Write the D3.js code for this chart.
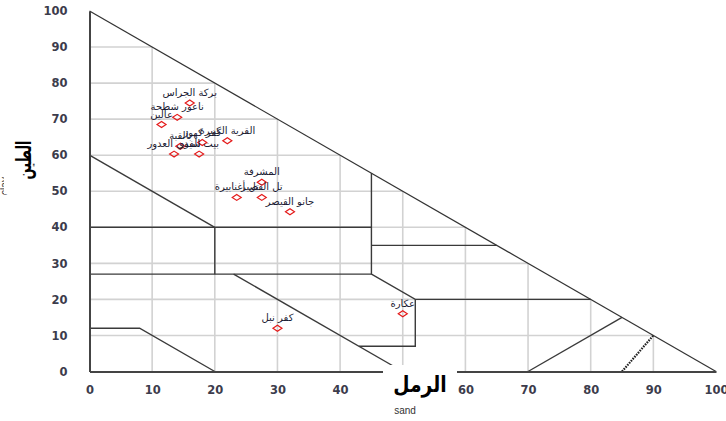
<!DOCTYPE html>
<html>
<head>
<meta charset="utf-8">
<script src="https://cdn.jsdelivr.net/npm/d3@7/dist/d3.min.js"></script>
<style>
  html, body { margin: 0; padding: 0; background: #fff; }
  svg { display: block; }
</style>
</head>
<body>
<svg id="chart" width="726" height="421"></svg>
<script>
// Sample sites: sand % and clay % from the soil analyses
const siteNames = [
  "بركة الجراس", "ناعور شطحة", "عالين", "القرية الكبيرة", "كفر كهوز",
  "بالقبة", "سيدي العدور", "بيت الفور", "المشرفة", "تل أغنابيرة",
  "تل القصير", "جانو القيصر", "عكارة", "كفر نبل"
];
const siteSand = [16, 14, 11.5, 22, 18, 14.5, 13.5, 17.5, 27.5, 23.5, 27.5, 32, 50, 30];
const siteClay = [74.5, 70.5, 68.5, 64, 63.5, 62.5, 60.3, 60.3, 52.5, 48.3, 48.3, 44.3, 16, 12];

// Axis ticks
const tickValues = [0, 10, 20, 30, 40, 50, 60, 70, 80, 90, 100];
const gridValues = [10, 20, 30, 40, 50, 60, 70, 80, 90];

// USDA texture class boundaries as [sand, clay] polylines
const textureBoundaries = [
  [[0, 60], [20, 40]],
  [[0, 40], [45, 40]],
  [[0, 27], [45, 27]],
  [[20, 40], [20, 27]],
  [[45, 55], [45, 27], [52, 20], [80, 20]],
  [[45, 35], [65, 35]],
  [[23, 27], [50, 0]],
  [[43, 7], [52, 7], [52, 20]],
  [[0, 12], [8, 12], [20, 0]],
  [[70, 0], [85, 15]]
];
const sandBoundary = [[85, 0], [90, 10]];

const svg = d3.select("#chart");
const x = d3.scaleLinear().domain([0, 100]).range([89.5, 716]);
const y = d3.scaleLinear().domain([0, 100]).range([371.5, 11]);
const line = d3.line().x(d => x(d[0])).y(d => y(d[1]));

// Grid, clipped to the triangle
const grid = svg.append("g").attr("stroke", "#d2d2d2").attr("stroke-width", 1.6);
grid.selectAll("line.v").data(gridValues).join("line")
  .attr("x1", d => x(d)).attr("x2", d => x(d))
  .attr("y1", y(0)).attr("y2", d => y(100 - d));
grid.selectAll("line.h").data(gridValues).join("line")
  .attr("y1", d => y(d)).attr("y2", d => y(d))
  .attr("x1", x(0)).attr("x2", d => x(100 - d));

// Texture class boundaries
svg.append("g").attr("fill", "none").attr("stroke", "#3a3a3a").attr("stroke-width", 1.4)
  .selectAll("path").data(textureBoundaries).join("path")
  .attr("d", line);
svg.append("path").attr("d", line(sandBoundary))
  .attr("fill", "none").attr("stroke", "#222").attr("stroke-width", 2.2)
  .attr("stroke-dasharray", "1.6,1.1");

// Hypotenuse (silt = 0)
svg.append("path").attr("d", line([[0, 100], [100, 0]]))
  .attr("fill", "none").attr("stroke", "#333").attr("stroke-width", 1.2);

// Axes
const tickFont = g => g.selectAll("text")
  .attr("font-family", "DejaVu Sans").attr("font-weight", "bold")
  .attr("font-size", 11.5).attr("fill", "#3c3c4c");

svg.append("g").attr("transform", `translate(${x(0)},0)`)
  .call(d3.axisLeft(y).tickValues(tickValues).tickSize(0).tickPadding(22).tickFormat(d3.format("d")))
  .call(g => g.select(".domain").attr("stroke", "#444").attr("stroke-width", 2))
  .call(tickFont);

svg.append("g").attr("transform", `translate(0,${y(0)})`)
  .call(d3.axisBottom(x).tickValues(tickValues).tickSize(0).tickPadding(14).tickFormat(d3.format("d")))
  .call(g => g.select(".domain").attr("stroke", "#444").attr("stroke-width", 2))
  .call(tickFont);

// English axis titles
svg.append("text").attr("x", 405).attr("y", 414).attr("text-anchor", "middle")
  .attr("font-family", "Liberation Sans").attr("font-size", 10).attr("fill", "#333")
  .text("sand");
svg.append("text").attr("transform", "translate(8,186) rotate(-90)").attr("text-anchor", "middle")
  .attr("font-family", "Liberation Sans").attr("font-size", 10).attr("fill", "#333")
  .text("clay");

// Arabic axis titles on white boxes
svg.append("rect").attr("x", 4).attr("y", 130).attr("width", 35).attr("height", 64).attr("fill", "#fff");
svg.append("text").attr("transform", "translate(31,160) rotate(-90) scale(0.62,1)").attr("text-anchor", "middle")
  .attr("font-family", "DejaVu Sans").attr("font-weight", "bold").attr("font-size", 21).attr("fill", "#000")
  .text("الطين");
svg.append("rect").attr("x", 383).attr("y", 365).attr("width", 74).attr("height", 38).attr("fill", "#fff");
svg.append("text").attr("transform", "translate(420,392) scale(0.85,1)").attr("text-anchor", "middle")
  .attr("font-family", "DejaVu Sans").attr("font-weight", "bold").attr("font-size", 22).attr("fill", "#000")
  .text("الرمل");

// Sites
const sites = siteNames.map((name, i) => ({ name, sand: siteSand[i], clay: siteClay[i] }));
const pts = svg.append("g");
pts.selectAll("path").data(sites).join("path")
  .attr("transform", d => `translate(${x(d.sand)},${y(d.clay)})`)
  .attr("d", "M-4.5,0L0,-3L4.5,0L0,3Z")
  .attr("fill", "none").attr("stroke", "#e41a1a").attr("stroke-width", 1.2);
pts.selectAll("text").data(sites).join("text")
  .attr("x", d => x(d.sand)).attr("y", d => y(d.clay) - 7)
  .attr("text-anchor", "middle")
  .attr("font-family", "DejaVu Sans").attr("font-size", 10).attr("fill", "#1c1c34")
  .text(d => d.name);
</script>
</body>
</html>
